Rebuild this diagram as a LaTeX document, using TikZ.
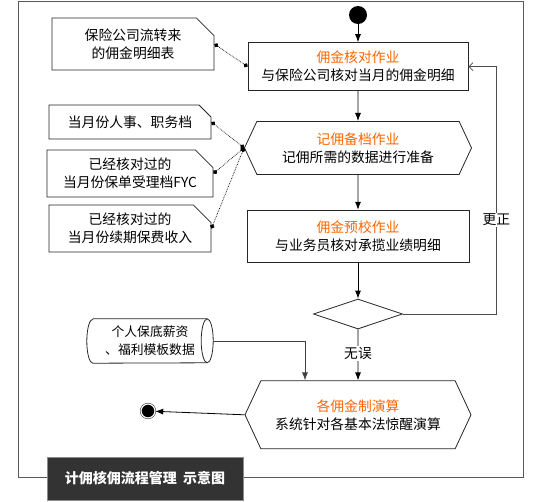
\documentclass[tikz,border=0pt]{standalone}
\usepackage{fontspec}
\setmainfont{Noto Sans CJK SC}
\usetikzlibrary{arrows.meta,positioning,shapes.geometric,shapes.symbols,shapes.misc}
\definecolor{headorange}{RGB}{255,102,0}
\definecolor{titlegray}{RGB}{51,51,51}
\newcommand{\acthead}[1]{\textcolor{headorange}{#1}}

\begin{document}
\begin{tikzpicture}[
  x=1pt, y=-1pt,
  font=\fontsize{13.8}{18}\selectfont,
  >=Latex,
  act/.style={draw=black!85, line width=0.8pt, align=center, minimum width=220pt, minimum height=48pt, fill=white, inner sep=2pt},
  sig/.style={act, signal, signal to=west and east, signal pointer angle=130},
  note/.style={draw=black!85, line width=0.8pt, chamfered rectangle, chamfered rectangle corners=north east, chamfered rectangle xsep=14pt, align=center, minimum width=162pt, inner sep=2pt},
  store/.style={align=center, minimum width=126pt, minimum height=44pt, inner sep=1pt, font=\fontsize{12.8}{18}\selectfont},
  storeline/.style={draw=black!85, line width=0.8pt},
  gate/.style={draw=black!85, line width=0.8pt, diamond, minimum width=89pt, minimum height=30pt, inner sep=0pt},
  startpt/.style={circle, fill=black, minimum size=18pt, inner sep=0pt},
  endpt/.style={circle, draw=black, double=white, double distance=1.2pt, fill=black, minimum size=14pt, inner sep=0pt},
  edge/.style={-{Latex[length=8pt,width=6pt]}, line width=0.8pt},
  back/.style={-{Straight Barb[length=4pt,width=8pt]}, line width=0.8pt, draw=black!70},
  link/.style={densely dotted, line width=0.7pt, {Circle[length=4.5pt]}-{Circle[length=4.5pt]}},
  frame/.style={draw=black!65, line width=1pt},
  titlebox/.style={fill=titlegray, draw=black!45, text=white, font=\fontsize{14}{16}\selectfont\bfseries, minimum width=196pt, minimum height=43pt, inner sep=0pt}
]
\useasboundingbox (0,0) rectangle (541,501);
\draw[frame] (18,1) rectangle (523,477);

% main column
\node[startpt] (start) at (358,15) {};
\node[act, below=18pt of start] (check) {\acthead{佣金核对作业}\\与保险公司核对当月的佣金明细};
\node[sig, minimum width=227pt, minimum height=53pt, below=30pt of check] (record) {\acthead{记佣备档作业}\\记佣所需的数据进行准备};
\node[act, minimum width=222pt, minimum height=52pt, below=35pt of record] (precheck) {\acthead{佣金预校作业}\\与业务员核对承揽业绩明细};
\node[gate, below=36pt of precheck] (ok) {};
\node[sig, minimum width=226pt, minimum height=68pt, below=51pt of ok] (calc) {\acthead{各佣金制演算}\\系统针对各基本法惊醒演算};
\node[endpt] (finish) at (148,411) {};

% inputs
\node[note, minimum height=52pt] (sheet) at (133,44) {保险公司流转来\\的佣金明细表};
\node[note, minimum height=34pt] (staff) at (130,122) {当月份人事、职务档};
\node[note, minimum height=47pt] (fyc) at (130,173.5) {已经核对过的\\当月份保单受理档FYC};
\node[note, minimum height=47pt] (renew) at (130,228.5) {已经核对过的\\当月份续期保费收入};
\node[store] (salary) at (150,341) {个人保底薪资\\、福利模板数据};
\draw[storeline] ([xshift=6pt]salary.north west) -- ([xshift=-6pt]salary.north east)
  arc (90:-90:6pt and 22pt) -- ([xshift=6pt]salary.south west)
  arc (270:90:6pt and 22pt);
\draw[storeline] ([xshift=-6pt]salary.north east) arc (90:270:6pt and 22pt);

\node[titlebox] (title) at (145,478.5) {计佣核佣流程管理\ \ 示意图};

\draw[edge] (start) -- (check);
\draw[edge] (check) -- (record);
\draw[edge] (record) -- (precheck);
\draw[edge] (precheck) -- (ok);
\draw[edge] (ok) -- node[pos=0.47, fill=white, inner sep=1pt] {无误} (calc);
\draw[back] (ok.east) -| node[pos=0.69, fill=white, inner sep=1pt] {更正} ([xshift=28pt]check.east) -- (check.east);
\draw[edge, draw=black!75] (salary.east) -| ([xshift=-53pt]calc.north);
\draw[edge] (calc.west) -- (finish);

\draw[link] (sheet.east) -- (check.west);
\draw[link] (staff.east) -- (record.west);
\draw[link] (fyc.east) -- (record.west);
\draw[link] (renew.east) -- (record.west);
\end{tikzpicture}
\end{document}
